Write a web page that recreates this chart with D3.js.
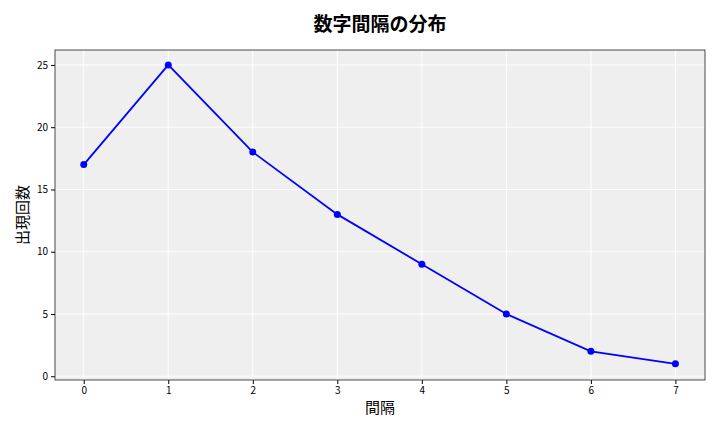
<!DOCTYPE html>
<html><head><meta charset="utf-8">
<script src="https://cdn.jsdelivr.net/npm/d3@7"></script>
<style>body{margin:0;background:#fff}text{font-family:"Noto Sans CJK JP","DejaVu Sans",sans-serif}</style>
</head><body><svg id="c" width="720" height="432"></svg>
<script>
const intervals = [0,1,2,3,4,5,6,7];
const counts = [17,25,18,13,9,5,2,1];
const yTicks = [0,5,10,15,20,25];
const svg = d3.select("#c");
const L=55,R=705,T=50,B=380;
const x = d3.scaleLinear().domain([-0.34,7.35]).range([L,R]);
const y = d3.scaleLinear().domain([-0.3,26.2]).range([B,T]);
svg.append("rect").attr("x",L).attr("y",T).attr("width",R-L).attr("height",B-T).attr("fill","#efefef");
const g=svg.append("g");
intervals.forEach(v=>g.append("line").attr("x1",x(v)).attr("x2",x(v)).attr("y1",T).attr("y2",B).attr("stroke","#fff").attr("stroke-width",1));
yTicks.forEach(v=>g.append("line").attr("x1",L).attr("x2",R).attr("y1",y(v)).attr("y2",y(v)).attr("stroke","#fff").attr("stroke-width",1));
svg.append("g").attr("transform",`translate(0,${B})`).call(d3.axisBottom(x).tickValues(intervals).tickFormat(d3.format("d")).tickSize(4)).call(a=>{a.select(".domain").remove();a.selectAll("text").attr("font-size",10).attr("fill","#000");});
svg.append("g").attr("transform",`translate(${L},0)`).call(d3.axisLeft(y).tickValues(yTicks).tickSize(4)).call(a=>{a.select(".domain").remove();a.selectAll("text").attr("font-size",10).attr("fill","#000");});
svg.append("rect").attr("x",L).attr("y",T).attr("width",R-L).attr("height",B-T).attr("fill","none").attr("stroke","#222").attr("stroke-width",0.8);
const line=d3.line().x((d,i)=>x(intervals[i])).y(d=>y(d));
svg.append("path").datum(counts).attr("d",line).attr("fill","none").attr("stroke","#0000ff").attr("stroke-width",1.8);
svg.selectAll(".pt").data(counts).enter().append("circle").attr("cx",(d,i)=>x(intervals[i])).attr("cy",d=>y(d)).attr("r",3.5).attr("fill","#0000ff");
svg.append("text").attr("x",380).attr("y",31).attr("text-anchor","middle").attr("font-size",19).attr("font-weight","bold").text("数字間隔の分布");
svg.append("text").attr("x",380).attr("y",413).attr("text-anchor","middle").attr("font-size",15).text("間隔");
svg.append("text").attr("transform","translate(28,215) rotate(-90)").attr("text-anchor","middle").attr("font-size",15).text("出現回数");
</script></body></html>
